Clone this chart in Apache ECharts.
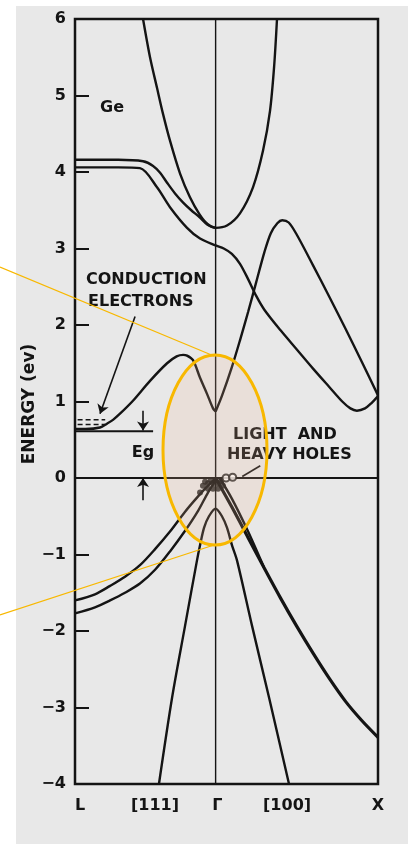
<!DOCTYPE html>
<html><head><meta charset="utf-8">
<script src="https://cdn.jsdelivr.net/npm/echarts@6/dist/echarts.min.js"></script>
<style>html,body{margin:0;padding:0;background:#fff;}#c{width:408px;height:844px;}</style>
</head><body><div id="c"></div>
<script>
// ---- axis ticks / labels ----
const xMin = -0.866, xMax = 1;           // L ... Gamma ... X
const yMin = -4, yMax = 6, yStep = 1;
const xTickValues = [-0.835, -0.373, 0.01, 0.44, 1];
const xTickLabels = ['L', '[111]', 'Γ', '[100]', 'X'];

// ---- bands (k, E in eV) ----
const bandUpperParabola = [[-0.447,6.0],[-0.404,5.50],[-0.361,5.10],[-0.324,4.76],[-0.281,4.41],[-0.219,3.98],[-0.158,3.67],[-0.100,3.45],[-0.050,3.32],[0,3.27],[0.070,3.30],[0.150,3.46],[0.230,3.80],[0.292,4.28],[0.335,4.80],[0.360,5.37],[0.378,6.0]];
const bandL4Upper = [[-0.866,4.16],[-0.60,4.16],[-0.447,4.14],[-0.385,4.08],[-0.342,3.99],[-0.299,3.86],[-0.250,3.72],[-0.200,3.60],[-0.150,3.50],[-0.100,3.41],[-0.050,3.31],[0,3.27]];
const bandL4Lower = [[-0.866,4.06],[-0.60,4.06],[-0.466,4.05],[-0.361,3.80],[-0.281,3.54],[-0.176,3.27],[-0.096,3.13],[0,3.04],[0.05,3.00],[0.10,2.93],[0.15,2.80],[0.20,2.60],[0.25,2.38],[0.30,2.20],[0.40,1.93],[0.50,1.68],[0.60,1.43],[0.70,1.19],[0.78,1.00],[0.83,0.91],[0.87,0.88],[0.92,0.91],[0.96,0.98],[1.0,1.07]];
const bandHump = [[0,0.87],[0.04,1.08],[0.10,1.45],[0.15,1.80],[0.20,2.17],[0.25,2.56],[0.30,2.95],[0.34,3.20],[0.38,3.33],[0.41,3.37],[0.45,3.34],[0.50,3.18],[0.60,2.78],[0.70,2.37],[0.80,1.95],[0.90,1.52],[1.0,1.08]];
const bandLowestCB = [[-0.866,0.64],[-0.80,0.64],[-0.712,0.66],[-0.669,0.71],[-0.632,0.76],[-0.589,0.84],[-0.509,1.01],[-0.404,1.27],[-0.299,1.50],[-0.240,1.59],[-0.200,1.61],[-0.176,1.60],[-0.139,1.54],[-0.096,1.31],[-0.053,1.10],[-0.016,0.91],[0,0.87]];
const bandVBLeftUpper = [[-0.866,-1.60],[-0.743,-1.52],[-0.650,-1.41],[-0.558,-1.29],[-0.466,-1.14],[-0.373,-0.93],[-0.281,-0.70],[-0.188,-0.44],[-0.108,-0.24],[-0.047,-0.10],[0,-0.01]];
const bandVBLeftLower = [[-0.866,-1.77],[-0.743,-1.69],[-0.650,-1.60],[-0.558,-1.50],[-0.466,-1.38],[-0.373,-1.20],[-0.281,-0.96],[-0.188,-0.69],[-0.108,-0.43],[-0.047,-0.19],[0,-0.03]];
const bandHeavyHole = [[0,0],[0.10,-0.38],[0.20,-0.78],[0.30,-1.18],[0.40,-1.57],[0.50,-1.94],[0.60,-2.29],[0.70,-2.62],[0.80,-2.92],[0.90,-3.17],[1.0,-3.39]];
const bandLightHole = [[0.025,0],[0.10,-0.27],[0.20,-0.70],[0.30,-1.18]];
const bandSplitOff = [[-0.349,-4.0],[-0.268,-2.87],[-0.188,-1.93],[-0.115,-1.08],[-0.096,-0.88],[-0.071,-0.65],[-0.041,-0.50],[0,-0.40],[0.039,-0.50],[0.070,-0.65],[0.101,-0.88],[0.132,-1.08],[0.224,-1.93],[0.329,-2.87],[0.452,-4.0]];
const zeroLine = [[-0.866,0],[1,0]];
const gammaLine = [[0,-4],[0,6]];
const egLine = [[-0.866,0.61],[-0.385,0.61]];
const dashUpper = [[-0.85,0.76],[-0.68,0.76]];
const dashLower = [[-0.85,0.70],[-0.68,0.70]];
const holesFilled = [[-0.047,-0.07],[-0.016,-0.07],[0.015,-0.07],[-0.047,-0.14],[-0.016,-0.14],[0.015,-0.14],[-0.078,-0.10],[-0.096,-0.19],[0.035,-0.04],[-0.03,-0.03],[0.0,-0.03],[-0.065,-0.05],[0.045,-0.10]];
const holesHollow = [[0.064,0.0],[0.105,0.01]];
// annotation arrows [from, to]
const arrowConduction = [[-0.496,2.11],[-0.712,0.84]];
const arrowEgTop = [[-0.447,0.88],[-0.447,0.62]];
const arrowEgBottom = [[-0.447,-0.29],[-0.447,0.0]];
const pointerHoles = [[0.275,0.16],[0.164,0.02]];

const INK = '#141414';
const FONT = '"DejaVu Sans", sans-serif';
const ORANGE = '#F8B800';

function band(data, w) {
  return { type:'line', data, showSymbol:false, smooth:0.3, silent:true, z:3,
           lineStyle:{color:INK, width:w||2.4}, animation:false };
}
function straight(data, w, type) {
  return { type:'line', data, showSymbol:false, smooth:false, silent:true, z:3,
           lineStyle:{color:INK, width:w, type:type||'solid'}, animation:false };
}
function ml(pair, arrow) {
  return [{coord:pair[0], symbol:'none'}, {coord:pair[1], symbol: arrow ? 'arrow' : 'none'}];
}

const chart = echarts.init(document.getElementById('c'), null, {renderer:'canvas'});
chart.setOption({
  animation:false,
  backgroundColor:'transparent',
  grid:{left:75, right:30, top:19, bottom:60, show:true, borderColor:INK, borderWidth:2.5, backgroundColor:'transparent'},
  xAxis:{type:'value', min:xMin, max:xMax,
    axisLine:{show:false, onZero:false}, axisTick:{show:false}, splitLine:{show:false},
    axisLabel:{customValues:xTickValues, margin:14, color:INK, fontFamily:FONT, fontWeight:'bold', fontSize:16,
      formatter:(v)=>{ for(let i=0;i<xTickValues.length;i++){ if(Math.abs(v-xTickValues[i])<1e-6) return xTickLabels[i]; } return ''; }}},
  yAxis:{type:'value', min:yMin, max:yMax, interval:yStep,
    axisLine:{show:false, onZero:false}, splitLine:{show:false},
    axisTick:{show:true, inside:true, length:14, lineStyle:{color:INK, width:2}},
    axisLabel:{margin:9, color:INK, fontFamily:FONT, fontWeight:'bold', fontSize:16,
      formatter:(v)=> v<0 ? '\u2212' + (-v) : String(v)}},
  series:[
    straight(gammaLine, 1.4),
    straight(zeroLine, 2),
    straight(egLine, 2),
    straight(dashUpper, 1.5, [5,3]),
    straight(dashLower, 1.5, [5,3]),
    band(bandUpperParabola),
    band(bandL4Upper),
    band(bandL4Lower),
    band(bandHump),
    band(bandLowestCB),
    band(bandVBLeftUpper),
    band(bandVBLeftLower),
    band(bandHeavyHole, 3.2),
    band(bandLightHole, 2.4),
    band(bandSplitOff),
    { type:'scatter', data:holesFilled, symbol:'circle', symbolSize:6, itemStyle:{color:INK}, silent:true, z:4 },
    { type:'scatter', data:holesHollow, symbol:'emptyCircle', symbolSize:7, itemStyle:{color:INK, borderWidth:1.8}, silent:true, z:4 },
    { type:'line', data:[], silent:true, z:4,
      markLine:{ silent:true, animation:false, symbolSize:9, label:{show:false},
        lineStyle:{color:INK, width:1.6, type:'solid'},
        data:[ ml(arrowConduction,true), ml(arrowEgTop,true), ml(arrowEgBottom,true), ml(pointerHoles,false) ] } }
  ],
  graphic:[
    {type:'rect', shape:{x:16,y:6,width:392,height:838}, style:{fill:'#e8e8e8'}, z:-100, silent:true},
    {type:'text', x:112, y:108, style:{text:'Ge', fill:INK, font:'bold 16px '+FONT, align:'center', verticalAlign:'middle'}, z:50},
    {type:'text', x:86, y:280, style:{text:'CONDUCTION', fill:INK, font:'bold 16px '+FONT, align:'left', verticalAlign:'middle'}, z:50},
    {type:'text', x:88, y:302, style:{text:'ELECTRONS', fill:INK, font:'bold 16px '+FONT, align:'left', verticalAlign:'middle'}, z:50},
    {type:'text', x:143, y:453, style:{text:'Eg', fill:INK, font:'bold 16px '+FONT, align:'center', verticalAlign:'middle'}, z:50},
    {type:'text', x:233, y:435, style:{text:'LIGHT  AND', fill:INK, font:'bold 16px '+FONT, align:'left', verticalAlign:'middle'}, z:50},
    {type:'text', x:227, y:455, style:{text:'HEAVY HOLES', fill:INK, font:'bold 16px '+FONT, align:'left', verticalAlign:'middle'}, z:50},
    {type:'text', x:30, y:404, rotation:Math.PI/2, style:{text:'ENERGY (ev)', fill:INK, font:'bold 17px '+FONT, align:'center', verticalAlign:'middle'}, z:50},
    {type:'ellipse', shape:{cx:215, cy:450, rx:52, ry:95}, style:{fill:'rgba(240,185,150,0.18)', stroke:ORANGE, lineWidth:3}, z:100, silent:true},
    {type:'line', shape:{x1:0,y1:267,x2:214,y2:356}, style:{stroke:ORANGE, lineWidth:1.2}, z:100, silent:true},
    {type:'line', shape:{x1:0,y1:615,x2:214,y2:545}, style:{stroke:ORANGE, lineWidth:1.2}, z:100, silent:true}
  ]
});
</script></body></html>
